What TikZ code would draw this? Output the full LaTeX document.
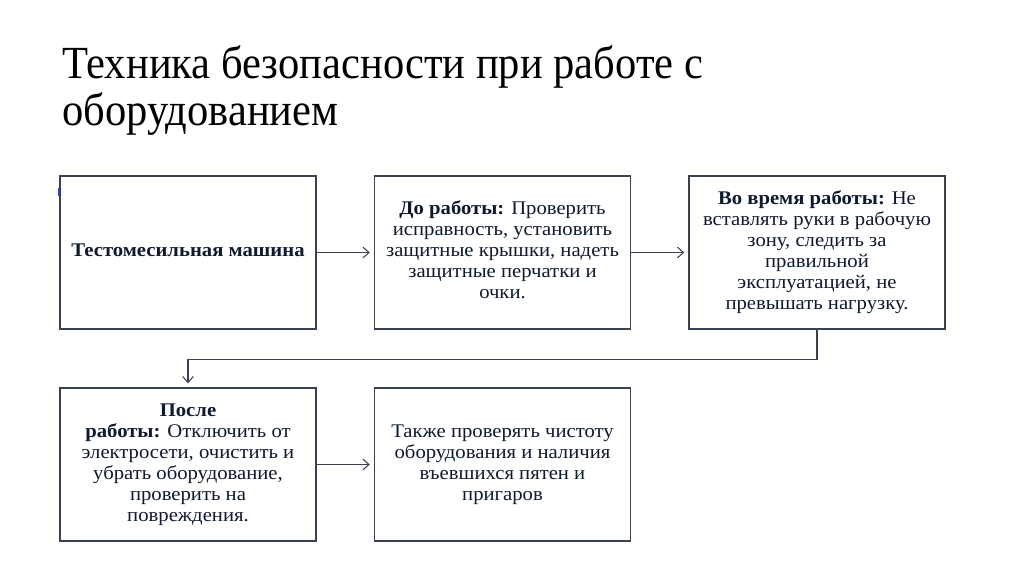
\documentclass[tikz,border=0pt]{standalone}
\usepackage{fontspec}
\setmainfont{Liberation Serif}
\usetikzlibrary{arrows.meta}
\definecolor{txt}{HTML}{0E1A2E}
\definecolor{brd}{HTML}{3A4250}
\definecolor{bluemark}{HTML}{2A4FC0}
\newcommand{\bxt}[1]{\scalebox{1.07}[1]{\begin{tabular}{@{}c@{}}#1\end{tabular}}}
\tikzset{
  box/.style={draw=brd, line width=1.1pt, minimum width=192pt, minimum height=114.75pt,
    inner sep=0pt, text=txt, font=\fontsize{14.5}{15.75}\selectfont},
  arr/.style={draw=brd, line width=0.8pt, -{Straight Barb[length=4.5pt,width=8pt]}, shorten >=3pt},
  ttl/.style={anchor=base west, inner sep=0pt, text=black, font=\fontsize{34.5}{36}\selectfont}
}
\begin{document}
\begin{tikzpicture}[x=0.75pt,y=-0.75pt]
\useasboundingbox[fill=white] (0,0) rectangle (1024,574);
\node[ttl] (t1) at (62,78.5) {\scalebox{0.925}[1]{Техника безопасности при работе с}};
\node[ttl] (t2) at (62,126) {\scalebox{0.925}[1]{оборудованием}};
\node[box] (b1) at (188,252.5) {\bxt{\textbf{Тестомесильная машина}}};
\node[box] (b2) at (502.5,252.5) {\bxt{\textbf{До работы:} Проверить\\исправность, установить\\защитные крышки, надеть\\защитные перчатки и\\очки.}};
\node[box] (b3) at (817,252.5) {\bxt{\textbf{Во время работы:} Не\\вставлять руки в рабочую\\зону, следить за\\правильной\\эксплуатацией, не\\превышать нагрузку.}};
\node[box] (b4) at (188,464.5) {\bxt{\textbf{После}\\\textbf{работы:} Отключить от\\электросети, очистить и\\убрать оборудование,\\проверить на\\повреждения.}};
\node[box] (b5) at (502.5,464.5) {\bxt{Также проверять чистоту\\оборудования и наличия\\въевшихся пятен и\\пригаров}};
\draw[arr] (b1.east) -- (b2.west);
\draw[arr] (b2.east) -- (b3.west);
\draw[arr] (b3.south) -- ++(0,30) -| (b4.north);
\draw[arr] (b4.east) -- (b5.west);
\coordinate (m1) at (58.5,188);
\coordinate (m2) at (58.5,196);
\draw[draw=bluemark, line width=1.3pt] (m1) -- (m2);
\end{tikzpicture}
\end{document}
